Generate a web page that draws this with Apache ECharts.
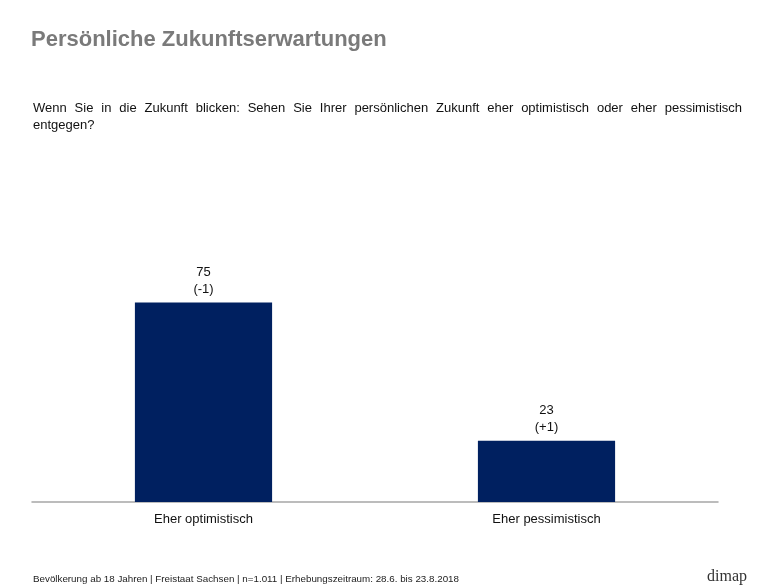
<!DOCTYPE html>
<html><head><meta charset="utf-8">
<script src="https://cdn.jsdelivr.net/npm/echarts@6/dist/echarts.min.js"></script>
<style>html,body{margin:0;padding:0;background:#fff}#c{width:780px;height:587px}</style>
</head><body><div id="c"></div>
<script>
const categories = ['Eher optimistisch', 'Eher pessimistisch'];
const values = [75, 23];
const changes = ['(-1)', '(+1)'];
const titleText = 'Persönliche Zukunftserwartungen';
const questionLine1 = 'Wenn Sie in die Zukunft blicken: Sehen Sie Ihrer persönlichen Zukunft eher optimistisch oder eher pessimistisch';
const questionLine2 = 'entgegen?';
const footerText = 'Bevölkerung ab 18 Jahren | Freistaat Sachsen | n=1.011 | Erhebungszeitraum: 28.6. bis 23.8.2018';

// justified first line of the question (33px .. 742px)
const qFont = '13px "Liberation Sans"';
const cv = document.createElement('canvas').getContext('2d');
cv.font = qFont;
const words = questionLine1.split(' ');
const widths = words.map(w => cv.measureText(w).width);
const totalW = widths.reduce((a, b) => a + b, 0);
const qLeft = 33, qRight = 742;
const gap = (qRight - qLeft - totalW) / (words.length - 1);
const qGraphics = [];
let xPos = qLeft;
words.forEach((w, i) => {
  qGraphics.push({type: 'text', left: xPos, top: 102, style: {text: w, font: qFont, fill: '#111'}});
  xPos += widths[i] + gap;
});
qGraphics.push({type: 'text', left: qLeft, top: 119, style: {text: questionLine2, font: qFont, fill: '#111'}});

const chart = echarts.init(document.getElementById('c'));
chart.setOption({
  backgroundColor: '#fff',
  animation: false,
  title: [
    {text: titleText, left: 31, top: 29, padding: 0, textStyle: {fontFamily: 'Liberation Sans', fontSize: 22, fontWeight: 'bold', color: '#7a7a7a'}},
    {text: footerText, left: 33, top: 574, padding: 0, textStyle: {fontFamily: 'Liberation Sans', fontSize: 9.8, fontWeight: 'normal', color: '#222'}},
    {text: 'dimap', left: 707, top: 569, padding: 0, textStyle: {fontFamily: 'Liberation Serif', fontSize: 16, fontWeight: 'normal', color: '#333'}}
  ],
  graphic: qGraphics,
  grid: {left: 32, right: 62, top: 236, bottom: 85},
  xAxis: {
    type: 'category', data: categories,
    axisLine: {lineStyle: {color: '#a6a6a6', width: 1.5}},
    axisTick: {show: false},
    axisLabel: {fontFamily: 'Liberation Sans', fontSize: 13, color: '#111', margin: 11}
  },
  yAxis: {type: 'value', min: 0, max: 100, show: false, splitLine: {show: false}},
  series: [{
    type: 'bar', data: values, barWidth: '40%',
    itemStyle: {color: '#002060'},
    label: {
      show: true, position: 'top', distance: 5,
      fontFamily: 'Liberation Sans', fontSize: 13, color: '#111', lineHeight: 17, align: 'center',
      formatter: p => p.value + '\n' + changes[p.dataIndex]
    }
  }]
});
</script></body></html>
